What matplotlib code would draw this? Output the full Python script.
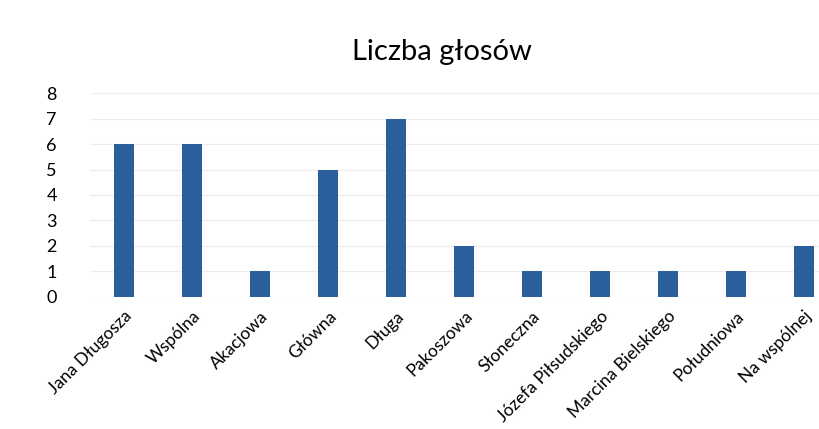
import matplotlib
matplotlib.use("Agg")
import matplotlib.pyplot as plt
import numpy as np

# dane z wykresu
streets = ["Jana Długosza", "Wspólna", "Akacjowa", "Główna", "Długa", "Pakoszowa",
           "Słoneczna", "Józefa Piłsudskiego", "Marcina Bielskiego", "Południowa", "Na wspólnej"]
votes = [6, 6, 1, 5, 7, 2, 1, 1, 1, 1, 2]
yticks = [0, 1, 2, 3, 4, 5, 6, 7, 8]

plt.rcParams['font.family'] = ['Lato', 'DejaVu Sans']

fig = plt.figure(figsize=(8.19, 4.29), dpi=100)
ax = fig.add_axes([0.11, 0.308, 0.913, 0.475])

x = np.arange(len(streets))
ax.bar(x, votes, width=0.3, color="#2b5e9c", zorder=2)

ax.set_xlim(-0.5, len(streets) - 0.5)
ax.set_ylim(0, 8)
ax.set_yticks(yticks)
ax.set_xticks(x)
ax.set_xticklabels(streets, rotation=45, ha="right", rotation_mode="anchor", fontsize=12.5)
ax.tick_params(axis="y", labelsize=13, length=0, pad=24)
ax.tick_params(axis="x", length=0, pad=8)
ax.grid(axis="y", color="#ececec", linewidth=0.8, zorder=0)
for s in ax.spines.values():
    s.set_visible(False)

fig.text(0.54, 0.878, "Liczba głosów", ha="center", va="center", fontsize=21)

fig.savefig("out.png", dpi=100)
